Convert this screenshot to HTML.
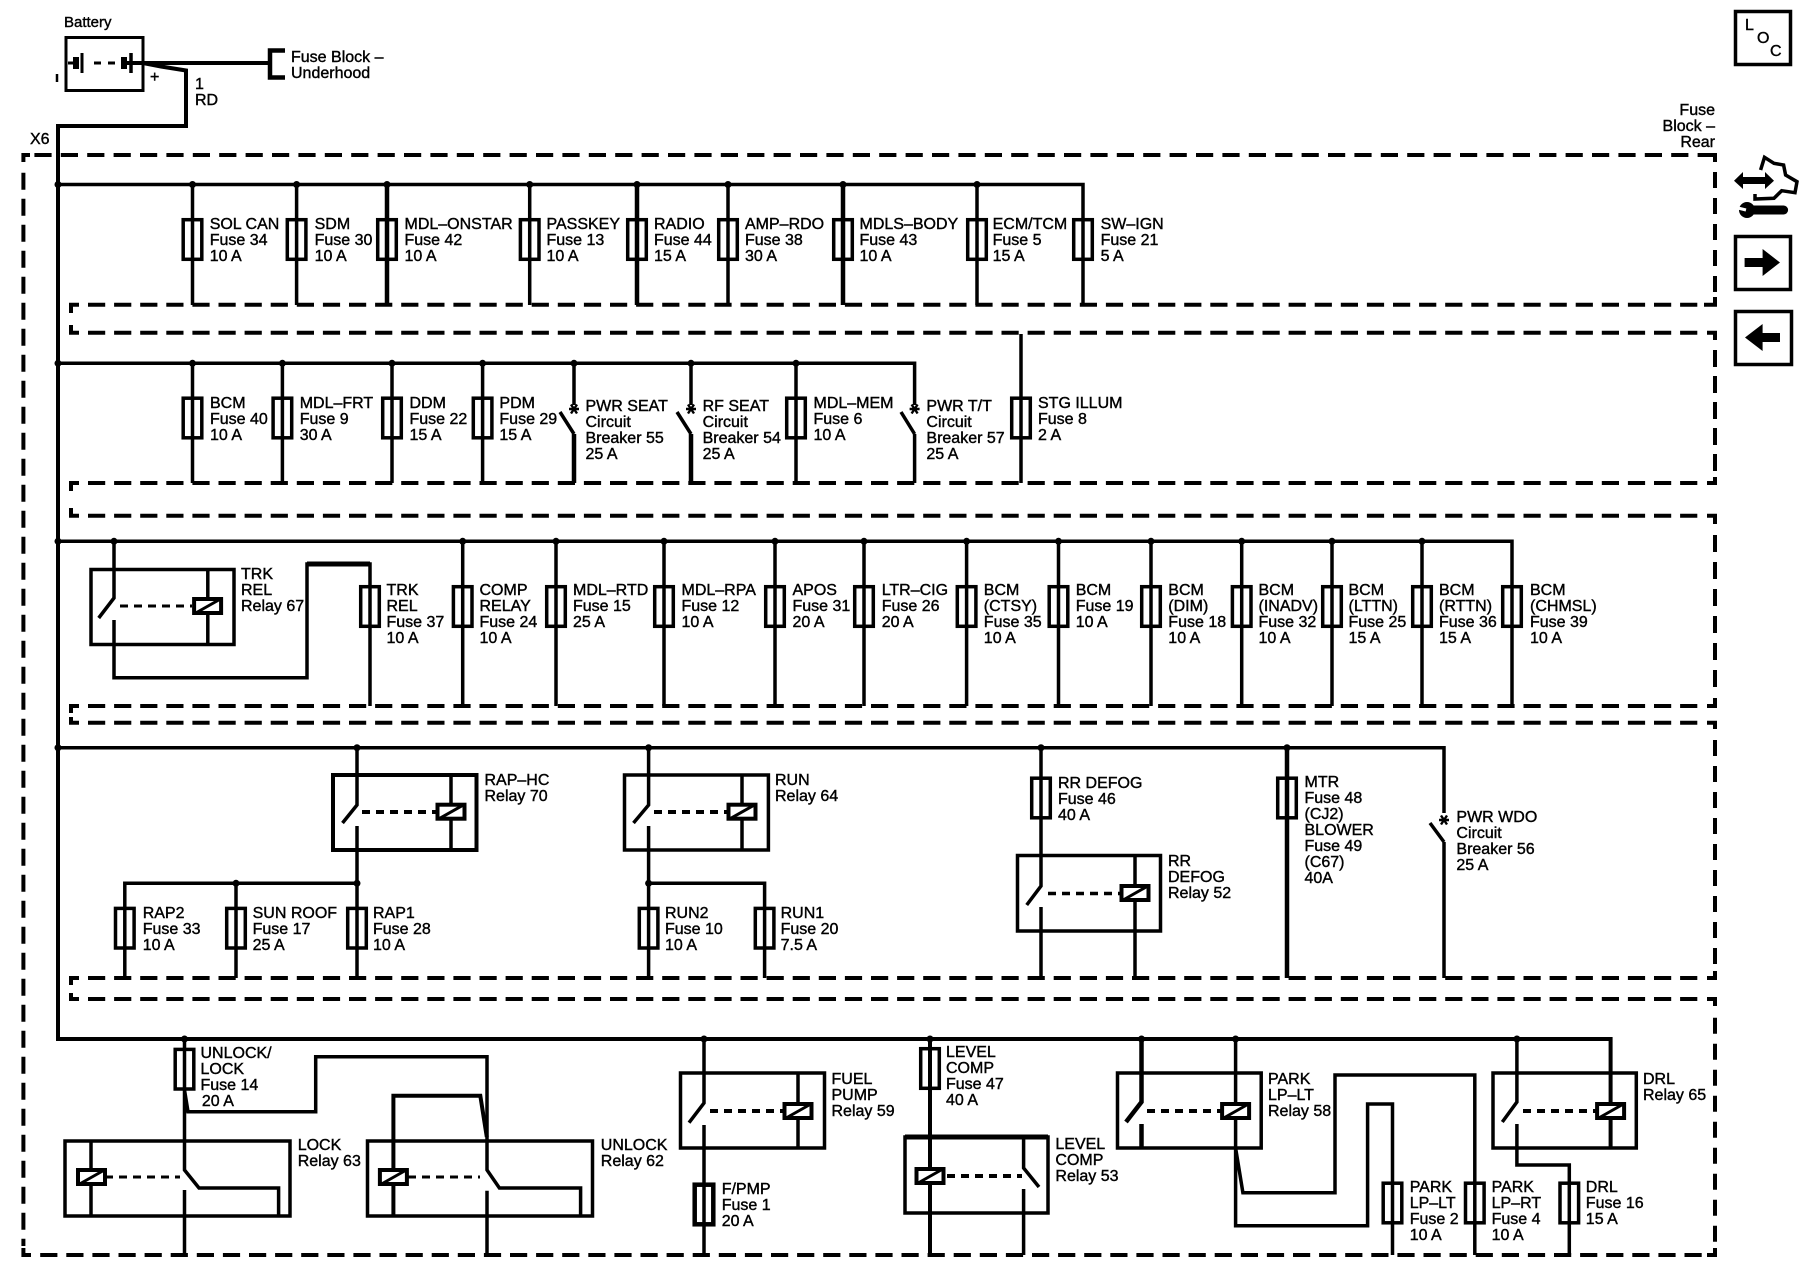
<!DOCTYPE html>
<html><head><meta charset="utf-8"><title>Fuse Block Diagram</title>
<style>
html,body{margin:0;padding:0;background:#fff}
#p{position:relative;width:1800px;height:1280px;overflow:hidden;background:#fff}
svg{position:absolute;left:0;top:0}
.t{position:absolute;margin-top:1.2px;font:16px/16px "Liberation Sans",sans-serif;color:#000;white-space:nowrap;-webkit-text-stroke:.4px #000}
</style></head><body><div id="p">
<svg width="1800" height="1280" viewBox="0 0 1800 1280" fill="none" stroke="#000" stroke-width="3.5">
<defs>
<g id="f"><rect x="-9.3" y="1.7" width="18.6" height="39.6"/></g>
<g id="c"><rect x="-13.5" y="-7" width="27" height="14" fill="#fff" stroke-width="4"/><path d="M-11,6.5L12,-6.5" stroke-width="3"/></g>
<g id="s" stroke-width="2.4"><path d="M-5,0H5M-3,-4.5L3,4.5M3,-4.5L-3,4.5"/></g>
</defs>

<!-- dashed frames -->
<g stroke-width="4">
<path d="M34.4,155H1708" stroke-dasharray="17.2 9.2"/>
<path d="M30,155H23.4V162M1704,155H1715V162M1715,297V304.7H1704"/>
<path d="M1715,172V296" stroke-dasharray="16 10"/>
<path d="M23.4,172.7V1246" stroke-dasharray="17 9"/>
<path d="M23.4,1248V1255H31"/>
<path d="M40.2,1255H1702" stroke-dasharray="17.2 8.9"/>
<path d="M1707,1255H1715V1248"/>
<path d="M79,304.7H71V313M71,325V332.7H79"/>
<path d="M88,304.7H1702M88,332.7H1702" stroke-dasharray="17.2 8.9"/>
<path d="M1707,332.7H1715V340"/>
<path d="M1715,350V476" stroke-dasharray="17 9"/>
<path d="M1715,477V483H1707"/>
<path d="M79,483H71V491M71,508V515.7H79"/>
<path d="M88,483H1702M88,515.7H1702" stroke-dasharray="17.2 8.9"/>
<path d="M1707,515.7H1715V524"/>
<path d="M1715,535V697" stroke-dasharray="17 10"/>
<path d="M1715,698V706H1707"/>
<path d="M79,706H71V713M71,717V722.7H79"/>
<path d="M88,706H1702M88,722.7H1702" stroke-dasharray="17.2 8.9"/>
<path d="M1707,722.7H1715V729"/>
<path d="M1715,740V970" stroke-dasharray="16 10"/>
<path d="M1715,971V978H1707"/>
<path d="M79,978H71V985M71,993V999H79"/>
<path d="M88,978H1702M88,999H1702" stroke-dasharray="17.2 8.9"/>
<path d="M1707,999H1715V1006"/>
<path d="M1715,1017.7V1246" stroke-dasharray="16 10"/>
</g>

<!-- battery -->
<rect x="66" y="37.5" width="77" height="53" stroke-width="3"/>
<path d="M68,63H76M82,53V73M94,63H115" stroke-width="3"/>
<path d="M94,63H115" stroke="#fff" stroke-width="4" stroke-dasharray="7 7" stroke-dashoffset="-7"/>
<path d="M124,63H143" stroke-width="4"/>
<path d="M131,53V73" stroke-width="3.5"/>
<path d="M76,57V69M124,57V69" stroke-width="6"/>
<path d="M57,74V82" stroke-width="2.5"/>
<path d="M143,63H270" stroke-width="4"/>
<path d="M285,50.5H270V77.5H285" stroke-width="4.5"/>
<path d="M143,63L161,66.5L186,70.5V126H58V1039H1610.6V1148" stroke-width="4"/>

<!-- row 1 -->
<path d="M58,184.5H1083V305"/>
<path d="M192.5,184.5V305M296.6,184.5V305M529.7,184.5V305M728,184.5V305M977,184.5V305"/>
<path d="M387,184.5V305M637,184.5V305M843,184.5V305" stroke-width="4.5"/>
<use href="#f" x="192.5" y="218"/><use href="#f" x="296.6" y="218"/><use href="#f" x="387" y="218"/><use href="#f" x="529.7" y="218"/><use href="#f" x="637" y="218"/><use href="#f" x="728" y="218"/><use href="#f" x="843" y="218"/><use href="#f" x="977" y="218"/><use href="#f" x="1083" y="218"/>

<!-- row 2 -->
<path d="M58,363.3H914.6V405"/>
<path d="M192.5,363.3V483M282.4,363.3V483M392,363.3V483M482.6,363.3V483M796,363.3V483M574,363.3V405M691,363.3V405M1021,334V483"/>
<path d="M574,434V483M691,434V483" stroke-width="4.5"/>
<path d="M914.6,434V483"/>
<path d="M560,412L574,434M677,412L691,434M901,412L914.6,434"/>
<use href="#f" x="192.5" y="396.5"/><use href="#f" x="282.4" y="396.5"/><use href="#f" x="392" y="396.5"/><use href="#f" x="482.6" y="396.5"/><use href="#f" x="796" y="396.5"/><use href="#f" x="1021" y="396.5"/>
<use href="#s" x="574" y="409"/><use href="#s" x="691" y="409"/><use href="#s" x="914.6" y="409"/>

<!-- row 3 -->
<path d="M58,541.3H1512V706"/>
<path d="M462.7,541.3V706M556,541.3V706M664,541.3V706M775,541.3V706M864,541.3V706M966.6,541.3V706M1058.5,541.3V706M1151,541.3V706M1241.7,541.3V706M1332,541.3V706M1422,541.3V706"/>
<use href="#f" x="370" y="585"/><use href="#f" x="462.7" y="585"/><use href="#f" x="556" y="585"/><use href="#f" x="664" y="585"/><use href="#f" x="775" y="585"/><use href="#f" x="864" y="585"/><use href="#f" x="966.6" y="585"/><use href="#f" x="1058.5" y="585"/><use href="#f" x="1151" y="585"/><use href="#f" x="1241.7" y="585"/><use href="#f" x="1332" y="585"/><use href="#f" x="1422" y="585"/><use href="#f" x="1512" y="585"/>
<!-- relay 67 -->
<rect x="91" y="569.5" width="143" height="75"/>
<path d="M114,541.3V598L98.7,618M114,620V677.7H307V564H370V706"/>
<path d="M307,564H370" stroke-width="5"/>
<path d="M207.8,569V644"/>
<path d="M120,606H192" stroke-dasharray="8 6" stroke-width="3"/>
<use href="#c" x="207.6" y="606"/>

<!-- row 4 -->
<path d="M58,747.7H1444V813M1444,842V978M1430,823L1444,842M1041,747.7V886L1026.7,905M1041,907V978"/>
<path d="M1287,747.7V978" stroke-width="4.5"/>
<use href="#s" x="1444" y="820"/>
<use href="#f" x="1041" y="776.5"/><use href="#f" x="1287" y="776.5"/>
<rect x="1017.5" y="855.5" width="143" height="75.5"/>
<path d="M1135,855V978"/>
<path d="M1048,893.5H1121" stroke-dasharray="8 6" stroke-width="3.5"/>
<use href="#c" x="1135" y="893"/>
<!-- relay 70 -->
<rect x="333" y="775" width="143.5" height="75" stroke-width="4"/>
<path d="M357,747.7V805L342.5,823M357,826V978M451,775V850M124.8,978V883.3H357M236,883.3V978M648.6,747.7V805L633.5,823M648.6,826V978M648.6,883.3H764.6V978"/>
<path d="M362,812H436" stroke-dasharray="8 6" stroke-width="4"/>
<use href="#c" x="451" y="811.7"/>
<rect x="624.5" y="775" width="143.9" height="75"/>
<path d="M742,775V850"/>
<path d="M654,812H728" stroke-dasharray="8 6" stroke-width="4"/>
<use href="#c" x="742" y="811.7"/>
<use href="#f" x="124.8" y="906.7"/><use href="#f" x="236" y="906.7"/><use href="#f" x="357" y="906.7"/><use href="#f" x="648.6" y="906.7"/><use href="#f" x="764.6" y="906.7"/>

<!-- row 5 -->
<path d="M184.5,1039V1170L199,1188H278.6V1215M184.5,1190V1255M184.5,1090L188,1111.7H315.7V1056.7H487V1170L499.4,1188H580.6V1216M487,1190.7V1255"/>
<path d="M393.4,1216V1095.7H480.3L486.8,1137" stroke-width="4"/>
<path d="M91,1141V1216"/>
<use href="#f" x="184.5" y="1047.7"/>
<rect x="65" y="1141" width="225" height="75"/>
<rect x="367.5" y="1141" width="225" height="75"/>
<path d="M105,1177H180" stroke-dasharray="8 6" stroke-width="3"/>
<path d="M408,1177H480" stroke-dasharray="8 6" stroke-width="3"/>
<use href="#c" x="91.5" y="1177"/><use href="#c" x="393.4" y="1177"/>
<!-- fuel pump -->
<rect x="680.5" y="1073" width="144" height="75"/>
<path d="M704,1039V1103L689,1122.7M704,1125V1255M798,1073V1148"/>
<path d="M710,1111H783" stroke-dasharray="8 6" stroke-width="4"/>
<use href="#c" x="798" y="1111"/>
<use href="#f" x="704" y="1183" stroke-width="4.5"/>
<!-- level comp -->
<use href="#f" x="930" y="1047"/>
<path d="M930,1039V1255" stroke-width="4"/>
<rect x="905" y="1137" width="143" height="76"/>
<path d="M905,1137H1048" stroke-width="5"/>
<path d="M1023.6,1137V1168L1039,1187M1023.6,1189V1255"/>
<path d="M947,1176H1022" stroke-dasharray="8 6" stroke-width="4"/>
<use href="#c" x="930" y="1176"/>
<!-- park relay -->
<rect x="1117.5" y="1073" width="143.7" height="75"/>
<path d="M1141.5,1039V1102L1126,1122M1141.5,1124V1148" stroke-width="4.5"/>
<path d="M1235.6,1039V1225.7H1367.6V1104H1392.5V1255M1235.6,1148L1242.9,1192.7H1335V1075H1474.8V1255"/>
<path d="M1147,1111H1221" stroke-dasharray="8 6" stroke-width="4"/>
<use href="#c" x="1235.6" y="1111"/>
<use href="#f" x="1392.5" y="1181.5"/><use href="#f" x="1474.8" y="1181.5"/><use href="#f" x="1569.3" y="1181.5"/>
<!-- DRL relay -->
<rect x="1493" y="1073" width="143.3" height="75"/>
<path d="M1516.9,1039V1102L1502.3,1122M1516.9,1124V1165H1569.3V1255"/>
<path d="M1523,1111H1596" stroke-dasharray="8 6" stroke-width="4"/>
<use href="#c" x="1610.6" y="1111"/>

<!-- dots -->
<g fill="#000" stroke="none">
<circle cx="58" cy="184.5" r="3.5"/><circle cx="192.5" cy="184.5" r="3.5"/><circle cx="296.6" cy="184.5" r="3.5"/><circle cx="387" cy="184.5" r="3.5"/><circle cx="529.7" cy="184.5" r="3.5"/><circle cx="637" cy="184.5" r="3.5"/><circle cx="728" cy="184.5" r="3.5"/><circle cx="843" cy="184.5" r="3.5"/><circle cx="977" cy="184.5" r="3.5"/>
<circle cx="58" cy="363.3" r="3.5"/><circle cx="192.5" cy="363.3" r="3.5"/><circle cx="282.4" cy="363.3" r="3.5"/><circle cx="392" cy="363.3" r="3.5"/><circle cx="482.6" cy="363.3" r="3.5"/><circle cx="574" cy="363.3" r="3.5"/><circle cx="691" cy="363.3" r="3.5"/><circle cx="796" cy="363.3" r="3.5"/>
<circle cx="58" cy="541.3" r="3.5"/><circle cx="114" cy="541.3" r="3.5"/><circle cx="462.7" cy="541.3" r="3.5"/><circle cx="556" cy="541.3" r="3.5"/><circle cx="664" cy="541.3" r="3.5"/><circle cx="775" cy="541.3" r="3.5"/><circle cx="864" cy="541.3" r="3.5"/><circle cx="966.6" cy="541.3" r="3.5"/><circle cx="1058.5" cy="541.3" r="3.5"/><circle cx="1151" cy="541.3" r="3.5"/><circle cx="1241.7" cy="541.3" r="3.5"/><circle cx="1332" cy="541.3" r="3.5"/><circle cx="1422" cy="541.3" r="3.5"/>
<circle cx="58" cy="747.7" r="3.5"/><circle cx="357" cy="747.7" r="3.5"/><circle cx="648.6" cy="747.7" r="3.5"/><circle cx="1041" cy="747.7" r="3.5"/><circle cx="1287" cy="747.7" r="3.5"/>
<circle cx="236" cy="883.3" r="3.5"/><circle cx="357" cy="883.3" r="3.5"/><circle cx="648.6" cy="883.3" r="3.5"/>
<circle cx="184.5" cy="1039" r="3.5"/><circle cx="704" cy="1039" r="3.5"/><circle cx="930" cy="1039" r="3.5"/><circle cx="1141.5" cy="1039" r="3.5"/><circle cx="1235.6" cy="1039" r="3.5"/><circle cx="1516.9" cy="1039" r="3.5"/>
</g>

<!-- right icons -->
<rect x="1735.5" y="11.5" width="55" height="53" stroke-width="3.5"/>
<rect x="1735.5" y="236.5" width="55" height="53" stroke-width="3.5"/>
<rect x="1735.5" y="311.5" width="56" height="53" stroke-width="3.5"/>
<path d="M1744.6,258H1762.6V249L1780,262.5L1762.6,276V267H1744.6Z" fill="#000" stroke="none"/>
<path d="M1780,333H1762.6V324L1745,337.5L1762.6,351V342H1780Z" fill="#000" stroke="none"/>
<path d="M1734,180.7L1743,172V177H1765V172L1774,180.7L1765,189V184H1743V189Z" fill="#000" stroke="none"/>
<path d="M1760.6,170L1764.5,157.3L1774,163.3L1783.6,165L1785.6,175L1797,181.7L1795,192.7L1781.7,190.7L1774,198.3L1755,199V194" stroke-width="3.5"/>
<path d="M1748,210H1783.6" stroke-width="9" stroke-linecap="round"/>
<circle cx="1747" cy="210" r="8" fill="#000" stroke="none"/>
<path d="M1738,208L1746,210" stroke="#fff" stroke-width="3"/>
</svg>

<div class="t" style="left:64px;top:14px;font-size:15px">Battery</div>
<div class="t" style="left:150px;top:69px">+</div>
<div class="t" style="left:291px;top:49px">Fuse Block –<br>Underhood</div>
<div class="t" style="left:195px;top:76px">1<br>RD</div>
<div class="t" style="left:30px;top:131px">X6</div>
<div class="t" style="right:85px;top:101.5px;text-align:right">Fuse<br>Block –<br>Rear</div>
<div class="t" style="left:1745px;top:17px">L</div>
<div class="t" style="left:1757px;top:30px">O</div>
<div class="t" style="left:1770px;top:43px">C</div>

<div class="t" style="left:209.7px;top:215.5px">SOL CAN<br>Fuse 34<br>10 A</div>
<div class="t" style="left:314.6px;top:215.5px">SDM<br>Fuse 30<br>10 A</div>
<div class="t" style="left:404.5px;top:215.5px">MDL–ONSTAR<br>Fuse 42<br>10 A</div>
<div class="t" style="left:546.5px;top:215.5px">PASSKEY<br>Fuse 13<br>10 A</div>
<div class="t" style="left:654px;top:215.5px">RADIO<br>Fuse 44<br>15 A</div>
<div class="t" style="left:745px;top:215.5px">AMP–RDO<br>Fuse 38<br>30 A</div>
<div class="t" style="left:859.5px;top:215.5px">MDLS–BODY<br>Fuse 43<br>10 A</div>
<div class="t" style="left:992.6px;top:215.5px">ECM/TCM<br>Fuse 5<br>15 A</div>
<div class="t" style="left:1100.6px;top:215.5px">SW–IGN<br>Fuse 21<br>5 A</div>

<div class="t" style="left:210px;top:395px">BCM<br>Fuse 40<br>10 A</div>
<div class="t" style="left:299.7px;top:395px">MDL–FRT<br>Fuse 9<br>30 A</div>
<div class="t" style="left:409.5px;top:395px">DDM<br>Fuse 22<br>15 A</div>
<div class="t" style="left:499.4px;top:395px">PDM<br>Fuse 29<br>15 A</div>
<div class="t" style="left:585.5px;top:397.5px">PWR SEAT<br>Circuit<br>Breaker 55<br>25 A</div>
<div class="t" style="left:702.6px;top:397.5px">RF SEAT<br>Circuit<br>Breaker 54<br>25 A</div>
<div class="t" style="left:813.5px;top:395px">MDL–MEM<br>Fuse 6<br>10 A</div>
<div class="t" style="left:926.4px;top:397.5px">PWR T/T<br>Circuit<br>Breaker 57<br>25 A</div>
<div class="t" style="left:1038px;top:395px">STG ILLUM<br>Fuse 8<br>2 A</div>

<div class="t" style="left:241px;top:565.5px">TRK<br>REL<br>Relay 67</div>
<div class="t" style="left:386.5px;top:582px">TRK<br>REL<br>Fuse 37<br>10 A</div>
<div class="t" style="left:479.5px;top:582px">COMP<br>RELAY<br>Fuse 24<br>10 A</div>
<div class="t" style="left:573px;top:582px">MDL–RTD<br>Fuse 15<br>25 A</div>
<div class="t" style="left:681.5px;top:582px">MDL–RPA<br>Fuse 12<br>10 A</div>
<div class="t" style="left:792.5px;top:582px">APOS<br>Fuse 31<br>20 A</div>
<div class="t" style="left:881.7px;top:582px">LTR–CIG<br>Fuse 26<br>20 A</div>
<div class="t" style="left:983.8px;top:582px">BCM<br>(CTSY)<br>Fuse 35<br>10 A</div>
<div class="t" style="left:1075.7px;top:582px">BCM<br>Fuse 19<br>10 A</div>
<div class="t" style="left:1168.3px;top:582px">BCM<br>(DIM)<br>Fuse 18<br>10 A</div>
<div class="t" style="left:1258.5px;top:582px">BCM<br>(INADV)<br>Fuse 32<br>10 A</div>
<div class="t" style="left:1348.5px;top:582px">BCM<br>(LTTN)<br>Fuse 25<br>15 A</div>
<div class="t" style="left:1439px;top:582px">BCM<br>(RTTN)<br>Fuse 36<br>15 A</div>
<div class="t" style="left:1530px;top:582px">BCM<br>(CHMSL)<br>Fuse 39<br>10 A</div>

<div class="t" style="left:484.5px;top:772px">RAP–HC<br>Relay 70</div>
<div class="t" style="left:775px;top:772px">RUN<br>Relay 64</div>
<div class="t" style="left:1058px;top:774.5px">RR DEFOG<br>Fuse 46<br>40 A</div>
<div class="t" style="left:1168px;top:853px">RR<br>DEFOG<br>Relay 52</div>
<div class="t" style="left:1304.5px;top:774px">MTR<br>Fuse 48<br>(CJ2)<br>BLOWER<br>Fuse 49<br>(C67)<br>40A</div>
<div class="t" style="left:1456.4px;top:808.5px">PWR WDO<br>Circuit<br>Breaker 56<br>25 A</div>
<div class="t" style="left:142.7px;top:905px">RAP2<br>Fuse 33<br>10 A</div>
<div class="t" style="left:252.6px;top:905px">SUN ROOF<br>Fuse 17<br>25 A</div>
<div class="t" style="left:373px;top:905px">RAP1<br>Fuse 28<br>10 A</div>
<div class="t" style="left:665px;top:905px">RUN2<br>Fuse 10<br>10 A</div>
<div class="t" style="left:780.6px;top:905px">RUN1<br>Fuse 20<br>7.5 A</div>

<div class="t" style="left:200.5px;top:1045px">UNLOCK/<br>LOCK<br>Fuse 14<br>&#8202;20 A</div>
<div class="t" style="left:297.7px;top:1136.5px">LOCK<br>Relay 63</div>
<div class="t" style="left:600.8px;top:1136.5px">UNLOCK<br>Relay 62</div>
<div class="t" style="left:831.5px;top:1071px">FUEL<br>PUMP<br>Relay 59</div>
<div class="t" style="left:721.7px;top:1181px">F/PMP<br>Fuse 1<br>20 A</div>
<div class="t" style="left:946px;top:1043.5px">LEVEL<br>COMP<br>Fuse 47<br>40 A</div>
<div class="t" style="left:1055.4px;top:1135.5px">LEVEL<br>COMP<br>Relay 53</div>
<div class="t" style="left:1268px;top:1071px">PARK<br>LP–LT<br>Relay 58</div>
<div class="t" style="left:1409.7px;top:1179px">PARK<br>LP–LT<br>Fuse 2<br>10 A</div>
<div class="t" style="left:1491.6px;top:1179px">PARK<br>LP–RT<br>Fuse 4<br>10 A</div>
<div class="t" style="left:1585.8px;top:1179px">DRL<br>Fuse 16<br>15 A</div>
<div class="t" style="left:1643px;top:1071px">DRL<br>Relay 65</div>
</div></body></html>
